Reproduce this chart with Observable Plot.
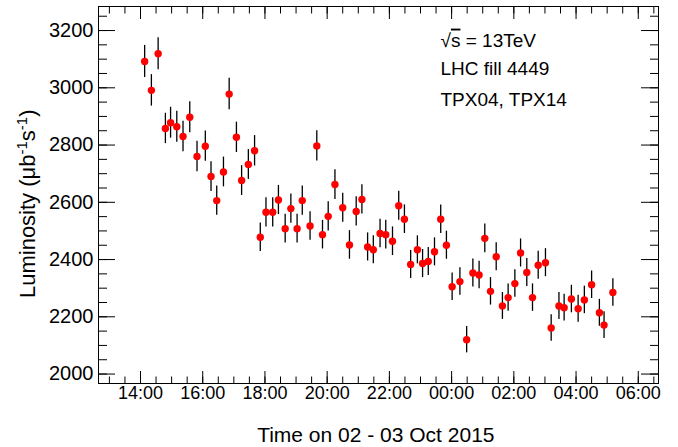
<!DOCTYPE html>
<html>
<head>
<meta charset="utf-8">
<script src="https://cdn.jsdelivr.net/npm/d3@7"></script>
<script src="https://cdn.jsdelivr.net/npm/@observablehq/plot@0.6"></script>
<style>
  html, body { margin: 0; padding: 0; background: #ffffff; }
  #chart svg { display: block; }
</style>
</head>
<body>
<div id="chart"></div>
<script>
// ---- data ----
const times = ["14:08","14:21","14:34","14:48","14:58","15:10","15:22","15:35","15:49","16:05",
  "16:16","16:27","16:40","16:51","17:05","17:15","17:28","17:40","17:51","18:02",
  "18:15","18:26","18:39","18:50","19:02","19:12","19:27","19:40","19:51","20:02",
  "20:15","20:30","20:43","20:56","21:07","21:18","21:29","21:42","21:53","22:06",
  "22:18","22:29","22:41","22:54","23:04","23:15","23:27","23:39","23:50","00:01",
  "00:16","00:29","00:41","00:53","01:04","01:15","01:26","01:38","01:49","02:02",
  "02:13","02:25","02:36","02:47","03:01","03:12","03:27","03:37","03:51","04:04",
  "04:16","04:30","04:45","04:54","05:11"];
const luminosity = [3092,2991,3119,2858,2878,2864,2830,2897,2760,2796,
  2690,2606,2706,2978,2827,2676,2732,2780,2478,2565,
  2565,2608,2508,2578,2508,2606,2517,2797,2487,2551,
  2662,2581,2451,2568,2610,2444,2434,2491,2487,2464,
  2588,2541,2383,2434,2386,2393,2427,2541,2450,2305,
  2323,2120,2353,2346,2474,2289,2410,2238,2267,2316,
  2423,2355,2267,2380,2389,2161,2238,2232,2262,2228,
  2259,2312,2214,2171,2285];
const errors = [56,55,56,53,54,54,53,54,53,53,
  52,51,52,55,53,52,52,53,50,51,
  51,51,50,51,50,51,50,53,50,51,
  52,51,50,51,51,49,49,50,50,50,
  51,50,49,49,49,49,49,50,49,48,
  48,46,49,48,50,48,49,47,48,48,
  49,49,48,49,49,46,47,47,48,47,
  48,48,47,47,48];
const xTickLabels = ["14:00","16:00","18:00","20:00","22:00","00:00","02:00","04:00","06:00"];
const yTickValues = [2000,2200,2400,2600,2800,3000,3200];
const yTickLabels = ["2000","2200","2400","2600","2800","3000","3200"];
const xRange = ["12:39","06:39"];
const yRange = [1967, 3284];
const annotationLines = ["√s = 13TeV", "LHC fill 4449", "TPX04, TPX14"];
const xTitle = "Time on 02 - 03 Oct 2015";
const yTitle = "Luminosity (μb^{-1}s^{-1})";

// ---- helpers ----
const parseTime = s => {
  const [h, m] = s.split(":").map(Number);
  return new Date(Date.UTC(2015, 9, h < 12 ? 3 : 2, h, m));
};
const data = times.map((t, i) => ({t: parseTime(t), lum: luminosity[i], err: errors[i]}));
const xDomain = xRange.map(parseTime);
const xMajor = xTickLabels.map(parseTime);
const xMinor = d3.utcMinute.every(30).range(xDomain[0], xDomain[1]);
const yMinor = d3.range(2000, 3251, 50);
const blank = () => "";
const xLabelOf = d => xTickLabels[xMajor.findIndex(t => +t === +d)];
const yLabelOf = d => yTickLabels[yTickValues.indexOf(d)];

const chart = Plot.plot({
  width: 678,
  height: 447,
  marginLeft: 98,
  marginRight: 20,
  marginTop: 6,
  marginBottom: 64,
  style: {
    fontFamily: "'Liberation Sans', Arial, Helvetica, sans-serif",
    fontSize: "18px",
    color: "#000",
    background: "#fff",
    overflow: "visible"
  },
  x: {type: "utc", domain: xDomain},
  y: {domain: yRange},
  marks: [
    Plot.ruleX(data, {x: "t", y1: d => d.lum - d.err, y2: d => d.lum + d.err, stroke: "#000", strokeWidth: 1.3}),
    Plot.dot(data, {x: "t", y: "lum", r: 3.7, fill: "#ff0000", stroke: "none"}),
    // inward ticks on all four sides
    Plot.axisX(xMinor, {anchor: "bottom", tickSize: -6.5, tickFormat: blank, label: null, stroke: "#000"}),
    Plot.axisX(xMajor, {anchor: "bottom", tickSize: -12, tickFormat: blank, label: null, stroke: "#000"}),
    Plot.axisX(xMinor, {anchor: "top", tickSize: -6.5, tickFormat: blank, label: null, stroke: "#000"}),
    Plot.axisX(xMajor, {anchor: "top", tickSize: -12, tickFormat: blank, label: null, stroke: "#000"}),
    Plot.axisY(yMinor, {anchor: "left", tickSize: -9, tickFormat: blank, label: null, stroke: "#000"}),
    Plot.axisY(yTickValues, {anchor: "left", tickSize: -17, tickFormat: blank, label: null, stroke: "#000"}),
    Plot.axisY(yMinor, {anchor: "right", tickSize: -9, tickFormat: blank, label: null, stroke: "#000"}),
    Plot.axisY(yTickValues, {anchor: "right", tickSize: -18, tickFormat: blank, label: null, stroke: "#000"}),
    // tick labels
    Plot.axisX(xMajor, {anchor: "bottom", tickSize: 0, tickPadding: 3, tickFormat: xLabelOf, label: null, fontSize: 18, fill: "#000"}),
    Plot.axisY(yTickValues, {anchor: "left", tickSize: 0, tickPadding: 5, tickFormat: yLabelOf, label: null, fontSize: 20, fill: "#000"}),
    Plot.frame({stroke: "#000", strokeWidth: 1}),
    // titles
    Plot.text([xTitle], {text: d => d, frameAnchor: "bottom-right", textAnchor: "end", lineAnchor: "middle", dx: -164, dy: 52, fontSize: 21, fill: "#000"}),
    Plot.text([yTitle], {text: d => d, frameAnchor: "top-left", textAnchor: "end", lineAnchor: "middle", rotate: -90, dx: -71, dy: 103, fontSize: 22, fill: "#000"}),
    // annotations
    Plot.text([annotationLines[0]], {text: d => d, frameAnchor: "top-left", textAnchor: "start", lineAnchor: "middle", dx: 342, dy: 34, fontSize: 19, fill: "#000"}),
    Plot.text([annotationLines[1]], {text: d => d, frameAnchor: "top-left", textAnchor: "start", lineAnchor: "middle", dx: 342, dy: 62, fontSize: 19, fill: "#000"}),
    Plot.text([annotationLines[2]], {text: d => d, frameAnchor: "top-left", textAnchor: "start", lineAnchor: "middle", dx: 342, dy: 93, fontSize: 19, fill: "#000"})
  ]
});

// ROOT-style text details: superscripts and sqrt overline
const svgns = "http://www.w3.org/2000/svg";
chart.querySelectorAll("text").forEach(el => {
  const s = el.textContent;
  if (s.includes("^{")) {
    const parts = s.split(/\^\{([^}]*)\}/);
    el.textContent = "";
    parts.forEach((p, i) => {
      if (p === "") return;
      const ts = document.createElementNS(svgns, "tspan");
      ts.textContent = p;
      if (i % 2 === 1) { ts.setAttribute("dy", "-8"); ts.setAttribute("font-size", "15"); }
      else if (i > 0) { ts.setAttribute("dy", "8"); }
      el.appendChild(ts);
    });
  } else if (s.startsWith("√s")) {
    el.textContent = "";
    const a = document.createElementNS(svgns, "tspan"); a.textContent = "√";
    const b = document.createElementNS(svgns, "tspan"); b.textContent = "s"; b.setAttribute("text-decoration", "overline");
    const c = document.createElementNS(svgns, "tspan"); c.textContent = s.slice(2);
    el.append(a, b, c);
  }
});

document.getElementById("chart").appendChild(chart);
</script>
</body>
</html>
